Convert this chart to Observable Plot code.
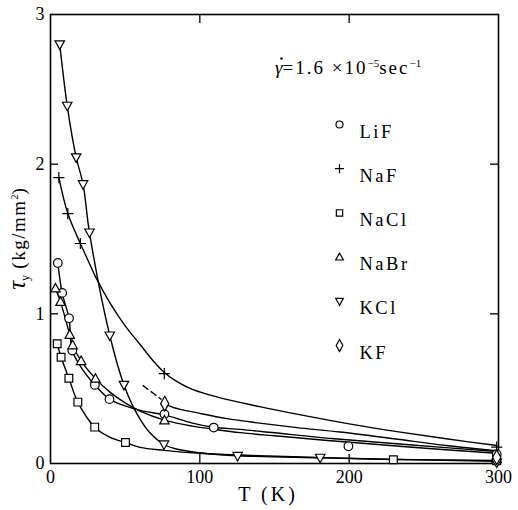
<!DOCTYPE html>
<html>
<head>
<meta charset="utf-8">
<script src="https://cdn.jsdelivr.net/npm/d3@7"></script>
<script src="https://cdn.jsdelivr.net/npm/@observablehq/plot@0.6"></script>
<style>
  body { margin: 0; background: #fff; }
  #chart { width: 518px; height: 510px; }
  #chart svg text { font-family: "Liberation Serif", "Times New Roman", serif; }
</style>
</head>
<body>
<div id="chart"></div>
<script>
// Axis ticks
const xTicks = [0, 100, 200, 300];
const yTicks = [0, 1, 2, 3];

// Crystal names, in legend order
const names = ["LiF", "NaF", "NaCl", "NaBr", "KCl", "KF"];

// Measured yield stress: [T (K), τy (kg/mm²)]
const lifMarks  = [[4.9, 1.34], [7.8, 1.14], [12.4, 0.97], [14.6, 0.755], [29.7, 0.525], [39.5, 0.43], [76.3, 0.33], [109.3, 0.24], [199.5, 0.115], [298.8, 0.062]];
const nafMarks  = [[5.6, 1.91], [11.6, 1.67], [20.0, 1.47], [76.2, 0.60], [298.8, 0.11]];
const naclMarks = [[4.5, 0.80], [7.1, 0.71], [12.3, 0.57], [18.3, 0.41], [29.6, 0.243], [50.2, 0.14], [229.6, 0.025], [298.8, 0.018]];
const nabrMarks = [[3.3, 1.17], [6.7, 1.08], [12.9, 0.86], [14.8, 0.79], [20.5, 0.685], [30.1, 0.567], [76.3, 0.288], [298.8, 0.03]];
const kclMarks  = [[6.2, 2.80], [11.2, 2.39], [17.2, 2.045], [21.8, 1.866], [26.1, 1.543], [39.7, 0.855], [49.2, 0.525], [76.0, 0.127], [125.3, 0.05], [180.6, 0.038], [298.8, 0.006]];
const kfMarks   = [[76.5, 0.40], [298.8, 0.042]];

// Smooth hand-drawn curves through each data set: [T (K), τy]
const lifCurve  = [[4.9, 1.34], [7.8, 1.14], [12.4, 0.97], [14.6, 0.755], [22, 0.62], [29.7, 0.525], [39.5, 0.43], [50, 0.385], [60, 0.355], [76.3, 0.325], [95, 0.27], [109.3, 0.242], [127, 0.228], [150, 0.205], [190, 0.165], [240, 0.125], [298.8, 0.08]];
const nafCurve  = [[5.6, 1.91], [11.6, 1.67], [20, 1.47], [25, 1.36], [30, 1.25], [40, 1.07], [50, 0.92], [60, 0.795], [68, 0.695], [76.2, 0.608], [85, 0.545], [95, 0.495], [115, 0.435], [140, 0.38], [165, 0.33], [200, 0.265], [232, 0.213], [265, 0.165], [298.8, 0.12]];
const naclCurve = [[4.5, 0.80], [7.1, 0.71], [12.3, 0.57], [18.3, 0.41], [29.6, 0.243], [40, 0.175], [50.2, 0.14], [60, 0.108], [76, 0.088], [100, 0.068], [140, 0.052], [200, 0.034], [229.6, 0.027], [298.8, 0.02]];
const nabrCurve = [[3.3, 1.17], [6.7, 1.08], [12.9, 0.86], [14.8, 0.79], [20.5, 0.685], [30.1, 0.567], [40, 0.475], [50, 0.405], [60, 0.35], [76.3, 0.29], [95, 0.25], [110, 0.228], [127, 0.206], [150, 0.185], [190, 0.15], [240, 0.11], [298.8, 0.068]];
const kclCurve  = [[6.2, 2.80], [11.2, 2.39], [17.2, 2.045], [21.8, 1.866], [26.1, 1.543], [39.7, 0.855], [49.2, 0.525], [58, 0.33], [67, 0.2], [76, 0.127], [85, 0.095], [100, 0.072], [125.3, 0.052], [180.6, 0.038], [240, 0.026], [298.8, 0.015]];
const kfCurve   = [[76.5, 0.40], [82, 0.375], [100, 0.335], [118, 0.30], [140, 0.27], [165, 0.24], [194, 0.21], [230, 0.165], [265, 0.12], [298.8, 0.085]];
const kfDash    = [[62, 0.52], [74, 0.43]];

// Open marker shapes; r = sqrt(size / π) as Plot passes it
const sym = (fn) => ({ draw(ctx, size) { fn(ctx, Math.sqrt(size / Math.PI)); } });
const circleSym  = sym((c, r) => { c.moveTo(r, 0); c.arc(0, 0, r, 0, 2 * Math.PI); c.closePath(); });
const plusSym    = sym((c, r) => { const a = r * 1.3; c.moveTo(-a, 0); c.lineTo(a, 0); c.moveTo(0, -a); c.lineTo(0, a); });
const squareSym  = sym((c, r) => { const a = r * 0.9; c.moveTo(-a, -a); c.lineTo(a, -a); c.lineTo(a, a); c.lineTo(-a, a); c.closePath(); });
const triUpSym   = sym((c, r) => { const a = r * 1.1; c.moveTo(0, -a * 1.05); c.lineTo(a, a * 0.75); c.lineTo(-a, a * 0.75); c.closePath(); });
const triDownSym = sym((c, r) => { const a = r * 1.1; c.moveTo(0, a * 1.05); c.lineTo(a, -a * 0.75); c.lineTo(-a, -a * 0.75); c.closePath(); });
const diamondSym = sym((c, r) => { c.moveTo(0, -r * 1.7); c.lineTo(r * 0.95, 0); c.lineTo(0, r * 1.7); c.lineTo(-r * 0.95, 0); c.closePath(); });

const series = [
  { name: names[0], marks: lifMarks,  curve: lifCurve,  symbol: circleSym },
  { name: names[1], marks: nafMarks,  curve: nafCurve,  symbol: plusSym },
  { name: names[2], marks: naclMarks, curve: naclCurve, symbol: squareSym },
  { name: names[3], marks: nabrMarks, curve: nabrCurve, symbol: triUpSym },
  { name: names[4], marks: kclMarks,  curve: kclCurve,  symbol: triDownSym },
  { name: names[5], marks: kfMarks,   curve: kfCurve,   symbol: diamondSym }
];

const W = 518, H = 510;
const mL = 50, mR = 20, mT = 14, mB = 47;
const innerW = W - mL - mR, innerH = H - mT - mB;
const serif = "Liberation Serif, Times New Roman, serif";
const px = (d) => d[0], py = (d) => d[1];
const innerX = xTicks.slice(1, -1), innerY = yTicks.slice(1, -1);

const chart = Plot.plot({
  width: W,
  height: H,
  marginLeft: mL,
  marginRight: mR,
  marginTop: mT,
  marginBottom: mB,
  style: { fontFamily: serif, fontSize: "18px", background: "white", color: "black" },
  x: { domain: [0, 300] },
  y: { domain: [0, 3] },
  marks: [
    // fitted curves
    ...series.map(s => Plot.line(s.curve, { x: px, y: py, curve: "catmull-rom", stroke: "black", strokeWidth: 1.4 })),
    Plot.line(kfDash, { x: px, y: py, stroke: "black", strokeWidth: 1.4, strokeDasharray: "6,4" }),
    // inward ticks on all four sides
    Plot.tickX(innerX, { x: d => d, insetTop: innerH - 9, stroke: "black", strokeWidth: 1.3 }),
    Plot.tickX(innerX, { x: d => d, insetBottom: innerH - 9, stroke: "black", strokeWidth: 1.3 }),
    Plot.tickY(innerY, { y: d => d, insetRight: innerW - 8, stroke: "black", strokeWidth: 1.3 }),
    Plot.tickY(innerY, { y: d => d, insetLeft: innerW - 8, stroke: "black", strokeWidth: 1.3 }),
    Plot.frame({ stroke: "black", strokeWidth: 1.6 }),
    Plot.axisX({ ticks: xTicks, tickSize: 0, tickPadding: 7, label: null, tickFormat: d => String(d), fontFamily: serif, fontSize: 18 }),
    Plot.axisY({ ticks: yTicks, tickSize: 0, tickPadding: 6, label: null, tickFormat: d => String(d), fontFamily: serif, fontSize: 18 }),
    // data markers
    ...series.map(s => Plot.dot(s.marks, { x: px, y: py, symbol: s.symbol, r: 4.3, stroke: "black", fill: "white", strokeWidth: 1.2 })),
    // legend inside the frame
    ...series.map((s, i) => Plot.dot([s], { frameAnchor: "top-left", dx: 289, dy: 110 + i * 44.2, symbol: s.symbol, r: 3.5, stroke: "black", fill: "white", strokeWidth: 1.2 })),
    ...series.map((s, i) => Plot.text([s.name], { frameAnchor: "top-left", dx: 309, dy: 110 + i * 44.2, text: d => d, textAnchor: "start", fontSize: 18.5, fontFamily: serif }))
  ]
});

const svg = d3.select(chart);
svg.selectAll("text").filter(function () { return names.includes(this.textContent); })
  .attr("letter-spacing", 2.5);

// strain-rate note: γ (with its rate dot drawn above it), then the rate
const note = svg.append("text")
  .attr("x", 275).attr("y", 74)
  .attr("text-anchor", "start")
  .attr("font-family", serif).attr("font-size", 19).attr("fill", "black");
note.append("tspan").attr("font-style", "italic").text("γ");
note.append("tspan").attr("letter-spacing", 2).text("=1.6 ×10");
note.append("tspan").attr("dy", -7).attr("font-size", 11).text("−5");
note.append("tspan").attr("dy", 7).attr("letter-spacing", 2).text("sec");
note.append("tspan").attr("dy", -7).attr("font-size", 11).text("−1");
svg.append("circle")
  .attr("cx", 281.5).attr("cy", 58.5).attr("r", 1.3)
  .attr("fill", "black");

// x-axis title
svg.append("text")
  .attr("x", 268).attr("y", 501)
  .attr("text-anchor", "middle")
  .attr("font-family", serif).attr("font-size", 20).attr("letter-spacing", 3).attr("fill", "black")
  .text("T (K)");

// y-axis title
const yl = svg.append("text")
  .attr("transform", "translate(25,239) rotate(-90)")
  .attr("text-anchor", "middle")
  .attr("font-family", serif).attr("fill", "black");
yl.append("tspan").attr("font-style", "italic").attr("font-size", 25).text("τ");
yl.append("tspan").attr("font-size", 12).attr("dy", 4).text("y");
yl.append("tspan").attr("font-size", 19).attr("dy", -4).attr("letter-spacing", 1.5).text(" (kg/mm");
yl.append("tspan").attr("font-size", 10).attr("dy", -7).text("2");
yl.append("tspan").attr("font-size", 19).attr("dy", 7).text(")");

document.getElementById("chart").appendChild(chart);
</script>
</body>
</html>
